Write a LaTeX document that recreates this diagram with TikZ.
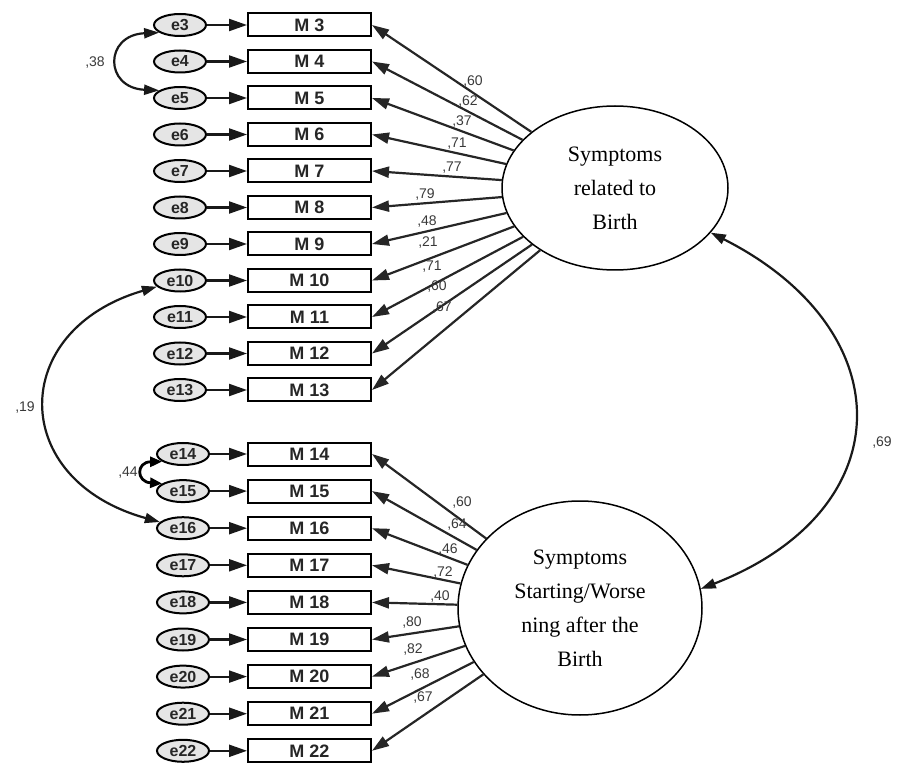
\documentclass[tikz,border=0pt]{standalone}
\usepackage{fontspec}
\setmainfont{Liberation Serif}
\newfontfamily\arialf{Liberation Sans}
\usetikzlibrary{arrows.meta,shapes.geometric}
\begin{document}
\begin{tikzpicture}[x=1pt,y=-1pt,
 errnode/.style={ellipse, draw, line width=2pt, fill=gray!20, minimum width=52pt, minimum height=22pt, inner sep=0pt, font=\arialf\fontsize{16}{16}\selectfont\bfseries, text=gray!30!black},
 obsbox/.style={rectangle, draw, line width=2pt, minimum width=123pt, minimum height=23pt, inner sep=0pt, font=\arialf\fontsize{18}{18}\selectfont\bfseries, text=black!85},
 latent/.style={ellipse, draw, line width=1.5pt, inner sep=0pt, align=center, font=\fontsize{22}{34}\selectfont},
 errarrow/.style={line width=2.2pt, black!90, -{Triangle[length=18pt,width=12pt]}},
 loadarrow/.style={line width=2.2pt, black!85, -{Triangle[length=17pt,width=11pt]}},
 covarrow/.style={line width=2.2pt, black!90, {Triangle[length=15pt,width=10pt]}-{Triangle[length=15pt,width=10pt]}},
 lbl/.style={font=\arialf\fontsize{14}{14}\selectfont, text=gray!45!black, inner sep=0pt}
]
\useasboundingbox (0,0) rectangle (898,770);

% latent variables
\node[latent, minimum width=226pt, minimum height=164pt] (top) at (615,188) {Symptoms\\related to\\Birth};
\node[latent, minimum width=244pt, minimum height=214pt] (bot) at (580,608) {Symptoms\\Starting/Worse\\ning after the\\Birth};

% upper indicators
\foreach \i in {3,...,13} {
  \pgfmathsetmacro\yy{25+(\i-3)*36.5}
  \node[obsbox] (m\i) at (309.5,\yy) {M \i};
  \node[errnode] (e\i) at (180,\yy) {e\i};
  \draw[errarrow] (e\i) -- (m\i);
  \draw[loadarrow] (top) -- (m\i.east);
}
% lower indicators
\foreach \i in {14,...,22} {
  \pgfmathsetmacro\yy{454+(\i-14)*37.1}
  \node[obsbox] (m\i) at (309.5,\yy) {M \i};
  \node[errnode] (e\i) at (183,\yy) {e\i};
  \draw[errarrow] (e\i) -- (m\i);
  \draw[loadarrow] (bot) -- (m\i.east);
}

% loading labels (upper)
\node[lbl] (l3) at (473,82) {,60};
\node[lbl] (l4) at (468,102) {,62};
\node[lbl] (l5) at (462,122) {,37};
\node[lbl] (l6) at (457,144) {,71};
\node[lbl] (l7) at (452,168) {,77};
\node[lbl] (l8) at (425,195) {,79};
\node[lbl] (l9) at (427,222) {,48};
\node[lbl] (l10) at (428,243) {,21};
\node[lbl] (l11) at (432,267) {,71};
\node[lbl] (l12) at (437,287) {,60};
\node[lbl] (l13) at (442,308) {,67};
% loading labels (lower)
\node[lbl] (l14) at (462,503) {,60};
\node[lbl] (l15) at (457,525) {,64};
\node[lbl] (l16) at (448,550) {,46};
\node[lbl] (l17) at (443,573) {,72};
\node[lbl] (l18) at (440,597) {,40};
\node[lbl] (l19) at (412,623) {,80};
\node[lbl] (l20) at (413,650) {,82};
\node[lbl] (l21) at (420,675) {,68};
\node[lbl] (l22) at (423,698) {,67};

% covariances
\node[lbl] (c35) at (95,63) {,38};
\draw[covarrow] (e3.200) .. controls (104,35) and (104,88) .. (e5.160);

\node[lbl] (c1415) at (128,473) {,44};
\draw[line width=2.8pt, black, {Triangle[length=12pt,width=10pt]}-{Triangle[length=12pt,width=10pt]}] (e14.200) .. controls (136,462) and (136,482) .. (e15.160);

\node[lbl] (c1016) at (25,408) {,19};
\draw[covarrow] (e10.195) .. controls (8,330) and (8,480) .. (e16.165);

\node[lbl] (c12) at (882,443) {,69};
\draw[covarrow] (top.-25) .. controls (903,330) and (903,510) .. (bot.9);
\end{tikzpicture}
\end{document}
